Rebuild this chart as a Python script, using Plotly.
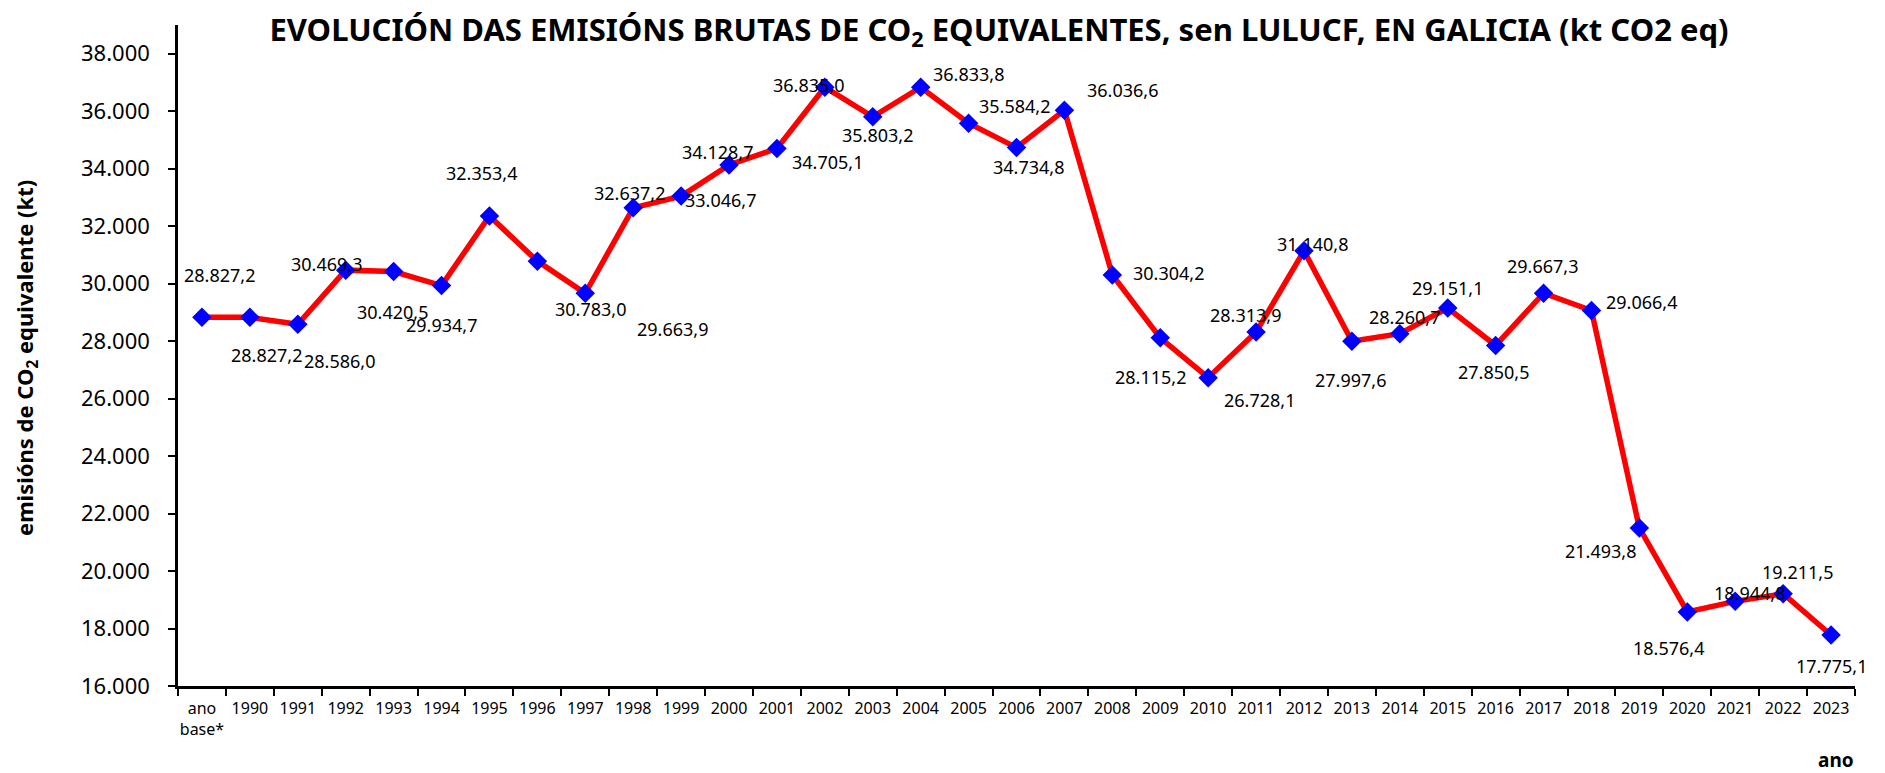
import plotly.graph_objects as go

categories = ["ano base*"] + [str(y) for y in range(1990, 2024)]
tick_text = ["ano<br>base*"] + [str(y) for y in range(1990, 2024)]
values = [28827.2, 28827.2, 28586.0, 30469.3, 30420.5, 29934.7, 32353.4, 30783.0,
          29663.9, 32637.2, 33046.7, 34128.7, 34705.1, 36835.0, 35803.2, 36833.8,
          35584.2, 34734.8, 36036.6, 30304.2, 28115.2, 26728.1, 28313.9, 31140.8,
          27997.6, 28260.7, 29151.1, 27850.5, 29667.3, 29066.4, 21493.8, 18576.4,
          18944.8, 19211.5, 17775.1]
y_ticks = list(range(16000, 38001, 2000))

# label offsets (pixels, right / down) relative to each point
label_dx = [15, 14, 35, -16, -1, 0, -7, 44, 73, -3, 33, -10, 42, -14, 4, 40, 38, 10,
            48, 47, -8, 43, -9, 7, -1, 4, 0, -2, -1, 42, -32, -16, 12, 12, 0]
label_dy = [-35, 31, 31, -5, 34, 33, -36, 40, 30, -12, 3, -11, 11, -2, 15, -11, -14, 16,
            -17, -2, 33, 19, -14, -6, 32, -14, -17, 22, -23, -7, 19, 30, -7, -18, 26]

def fmt(v):
    s = f"{v:,.1f}"
    return s.replace(",", "X").replace(".", ",").replace("X", ".")

def fmt0(v):
    return f"{v:,.0f}".replace(",", ".")

FONT = "Noto Sans"
L, R, T, B = 178, 30, 25, 87
W, H = 1885, 773
pw = W - L - R
ph = H - T - B

fig = go.Figure()
fig.add_trace(go.Scatter(
    x=categories, y=values, mode="lines+markers",
    line=dict(color="#ff0000", width=5.5),
    marker=dict(symbol="diamond", size=15, color="#0000ff"),
    showlegend=False, hoverinfo="x+y",
))

annotations = []
for i, (v, dx, dy) in enumerate(zip(values, label_dx, label_dy)):
    annotations.append(dict(
        x=i, y=v, xref="x", yref="y", text=fmt(v), showarrow=False,
        xshift=dx * 1.2, yshift=-dy * 1.2,
        font=dict(family=FONT, size=18, color="#000000"),
    ))

annotations.append(dict(
    x=(1836 - L) / pw, y=(H - B - 760) / ph, xref="paper", yref="paper",
    xanchor="center", yanchor="middle",
    text="<b>ano</b>", showarrow=False,
    font=dict(family=FONT, size=19, color="#000000"),
))
annotations.append(dict(
    x=(26 - L) / pw, y=(H - B - 358) / ph, xref="paper", yref="paper",
    xanchor="center", yanchor="middle", textangle=-90,
    text="<b>emisións de CO<sub>2</sub> equivalente (kt)</b>", showarrow=False,
    font=dict(family=FONT, size=22, color="#000000"),
))

fig.update_layout(
    width=W, height=H,
    margin=dict(l=L, r=R, t=T, b=B),
    paper_bgcolor="#ffffff", plot_bgcolor="#ffffff",
    title=dict(
        text="<b>EVOLUCIÓN DAS EMISIÓNS BRUTAS DE CO<sub>2</sub> EQUIVALENTES, sen LULUCF, EN GALICIA (kt CO2 eq)</b>",
        x=999 / W, xanchor="center", y=1 - 30 / H, yanchor="middle",
        font=dict(family=FONT, size=31, color="#000000"),
    ),
    xaxis=dict(
        type="category", tickson="boundaries", tickvals=categories, ticktext=tick_text,
        range=[-0.5, len(categories) - 0.5],
        ticks="outside", ticklen=7, tickwidth=2, tickcolor="#000000",
        showline=True, linecolor="#000000", linewidth=2.5,
        showgrid=False, zeroline=False,
        tickfont=dict(family=FONT, size=16, color="#000000"),
        tickangle=0, ticklabelstandoff=6,
    ),
    yaxis=dict(
        range=[16000, 39000], tickvals=y_ticks, ticktext=[fmt0(t) for t in y_ticks],
        ticks="outside", ticklen=7, tickwidth=2, tickcolor="#000000",
        showline=True, linecolor="#000000", linewidth=2.5,
        showgrid=False, zeroline=False,
        tickfont=dict(family=FONT, size=22, color="#000000"),
        ticklabelstandoff=14,
    ),
    annotations=annotations,
)

fig.write_html("out.html", config={"displayModeBar": False},
               post_script="document.body.style.margin='0px';document.body.style.overflow='hidden';")
